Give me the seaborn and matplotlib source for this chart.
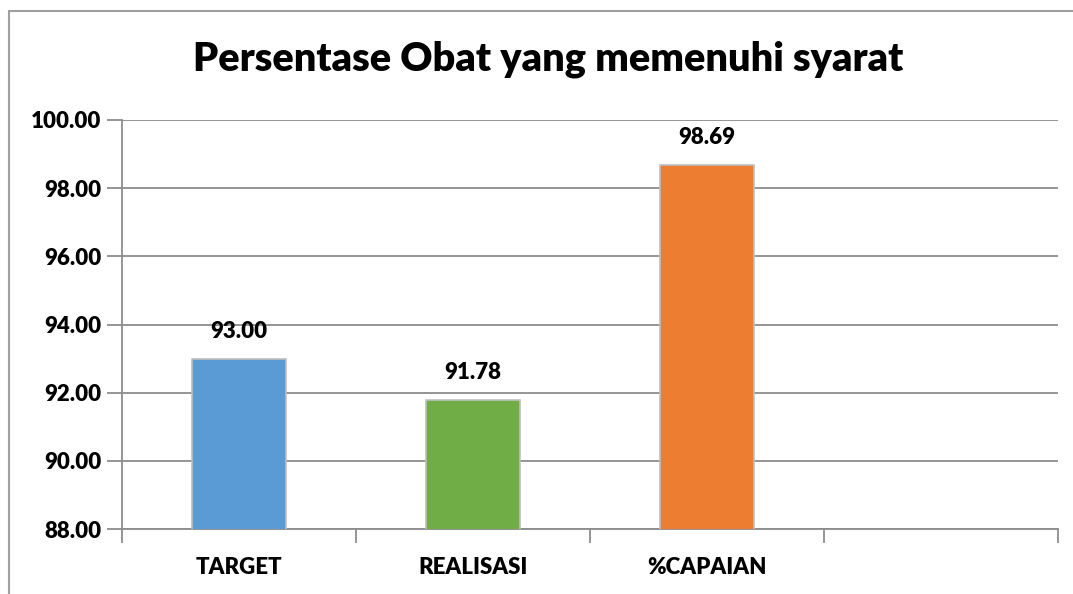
import matplotlib
matplotlib.use("Agg")
import matplotlib.pyplot as plt
import seaborn as sns
import pandas as pd
from matplotlib.lines import Line2D
from matplotlib.ticker import FixedLocator

categories = ["TARGET", "REALISASI", "%CAPAIAN"]
values = [93.00, 91.78, 98.69]
colors = ["#5B9BD5", "#70AD47", "#ED7D31"]
yticks = [88, 90, 92, 94, 96, 98, 100]
title = "Persentase Obat yang memenuhi syarat"

sns.set_theme(style="white")
plt.rcParams['font.family'] = ['Lato', 'DejaVu Sans']
W = "heavy"

df = pd.DataFrame({"cat": categories, "val": values})

fig = plt.figure(figsize=(10.73, 5.94), dpi=100)
ax = fig.add_axes([122/1073, 65/594, (1058-122)/1073, (529-120)/594])

sns.barplot(data=df, x="cat", y="val", hue="cat", palette=colors, order=categories,
            width=0.4, dodge=False, legend=False, ax=ax, edgecolor="#BFBFBF", linewidth=1.2,
            saturation=1, zorder=3)

ax.set_xlim(-0.5, 3.5)
ax.set_ylim(88, 100)
ax.set_yticks(yticks)
ax.set_yticklabels([f"{t:.2f}" for t in yticks], fontsize=16, fontweight=W, color="#000000")
ax.yaxis.grid(True, color="#8C8C8C", linewidth=1.3, zorder=0)
ax.set_axisbelow(True)
ax.tick_params(axis="y", which="major", length=11, width=1.3, color="#8C8C8C", pad=4, left=True)
ax.set_xticks(range(len(categories)))
ax.set_xticklabels(categories, fontsize=16, fontweight=W, color="#000000")
ax.tick_params(axis="x", which="major", length=0, pad=20)
ax.xaxis.set_minor_locator(FixedLocator([-0.5, 0.5, 1.5, 2.5, 3.5]))
ax.tick_params(axis="x", which="minor", length=10, width=1.3, color="#8C8C8C", bottom=True)
ax.set_xlabel("")
ax.set_ylabel("")

for s in ["top", "right"]:
    ax.spines[s].set_visible(False)
for s in ["left", "bottom"]:
    ax.spines[s].set_color("#8C8C8C")
    ax.spines[s].set_linewidth(1.3)

for i, v in enumerate(values):
    ax.text(i, v + 0.5, f"{v:.2f}", ha="center", va="bottom", fontsize=16,
            fontweight=W, color="#000000")

fig.text(548/1073, 1 - 59/594, title, ha="center", va="center", fontsize=28.5,
         fontweight=W, color="#000000")

fig.add_artist(Line2D([9/1073, 9/1073], [0, 1 - 11/594], transform=fig.transFigure,
                      color="#A0A0A0", linewidth=1.5))
fig.add_artist(Line2D([9/1073, 1], [1 - 11/594, 1 - 11/594], transform=fig.transFigure,
                      color="#A0A0A0", linewidth=1.5))

fig.savefig("out.png", dpi=100)
